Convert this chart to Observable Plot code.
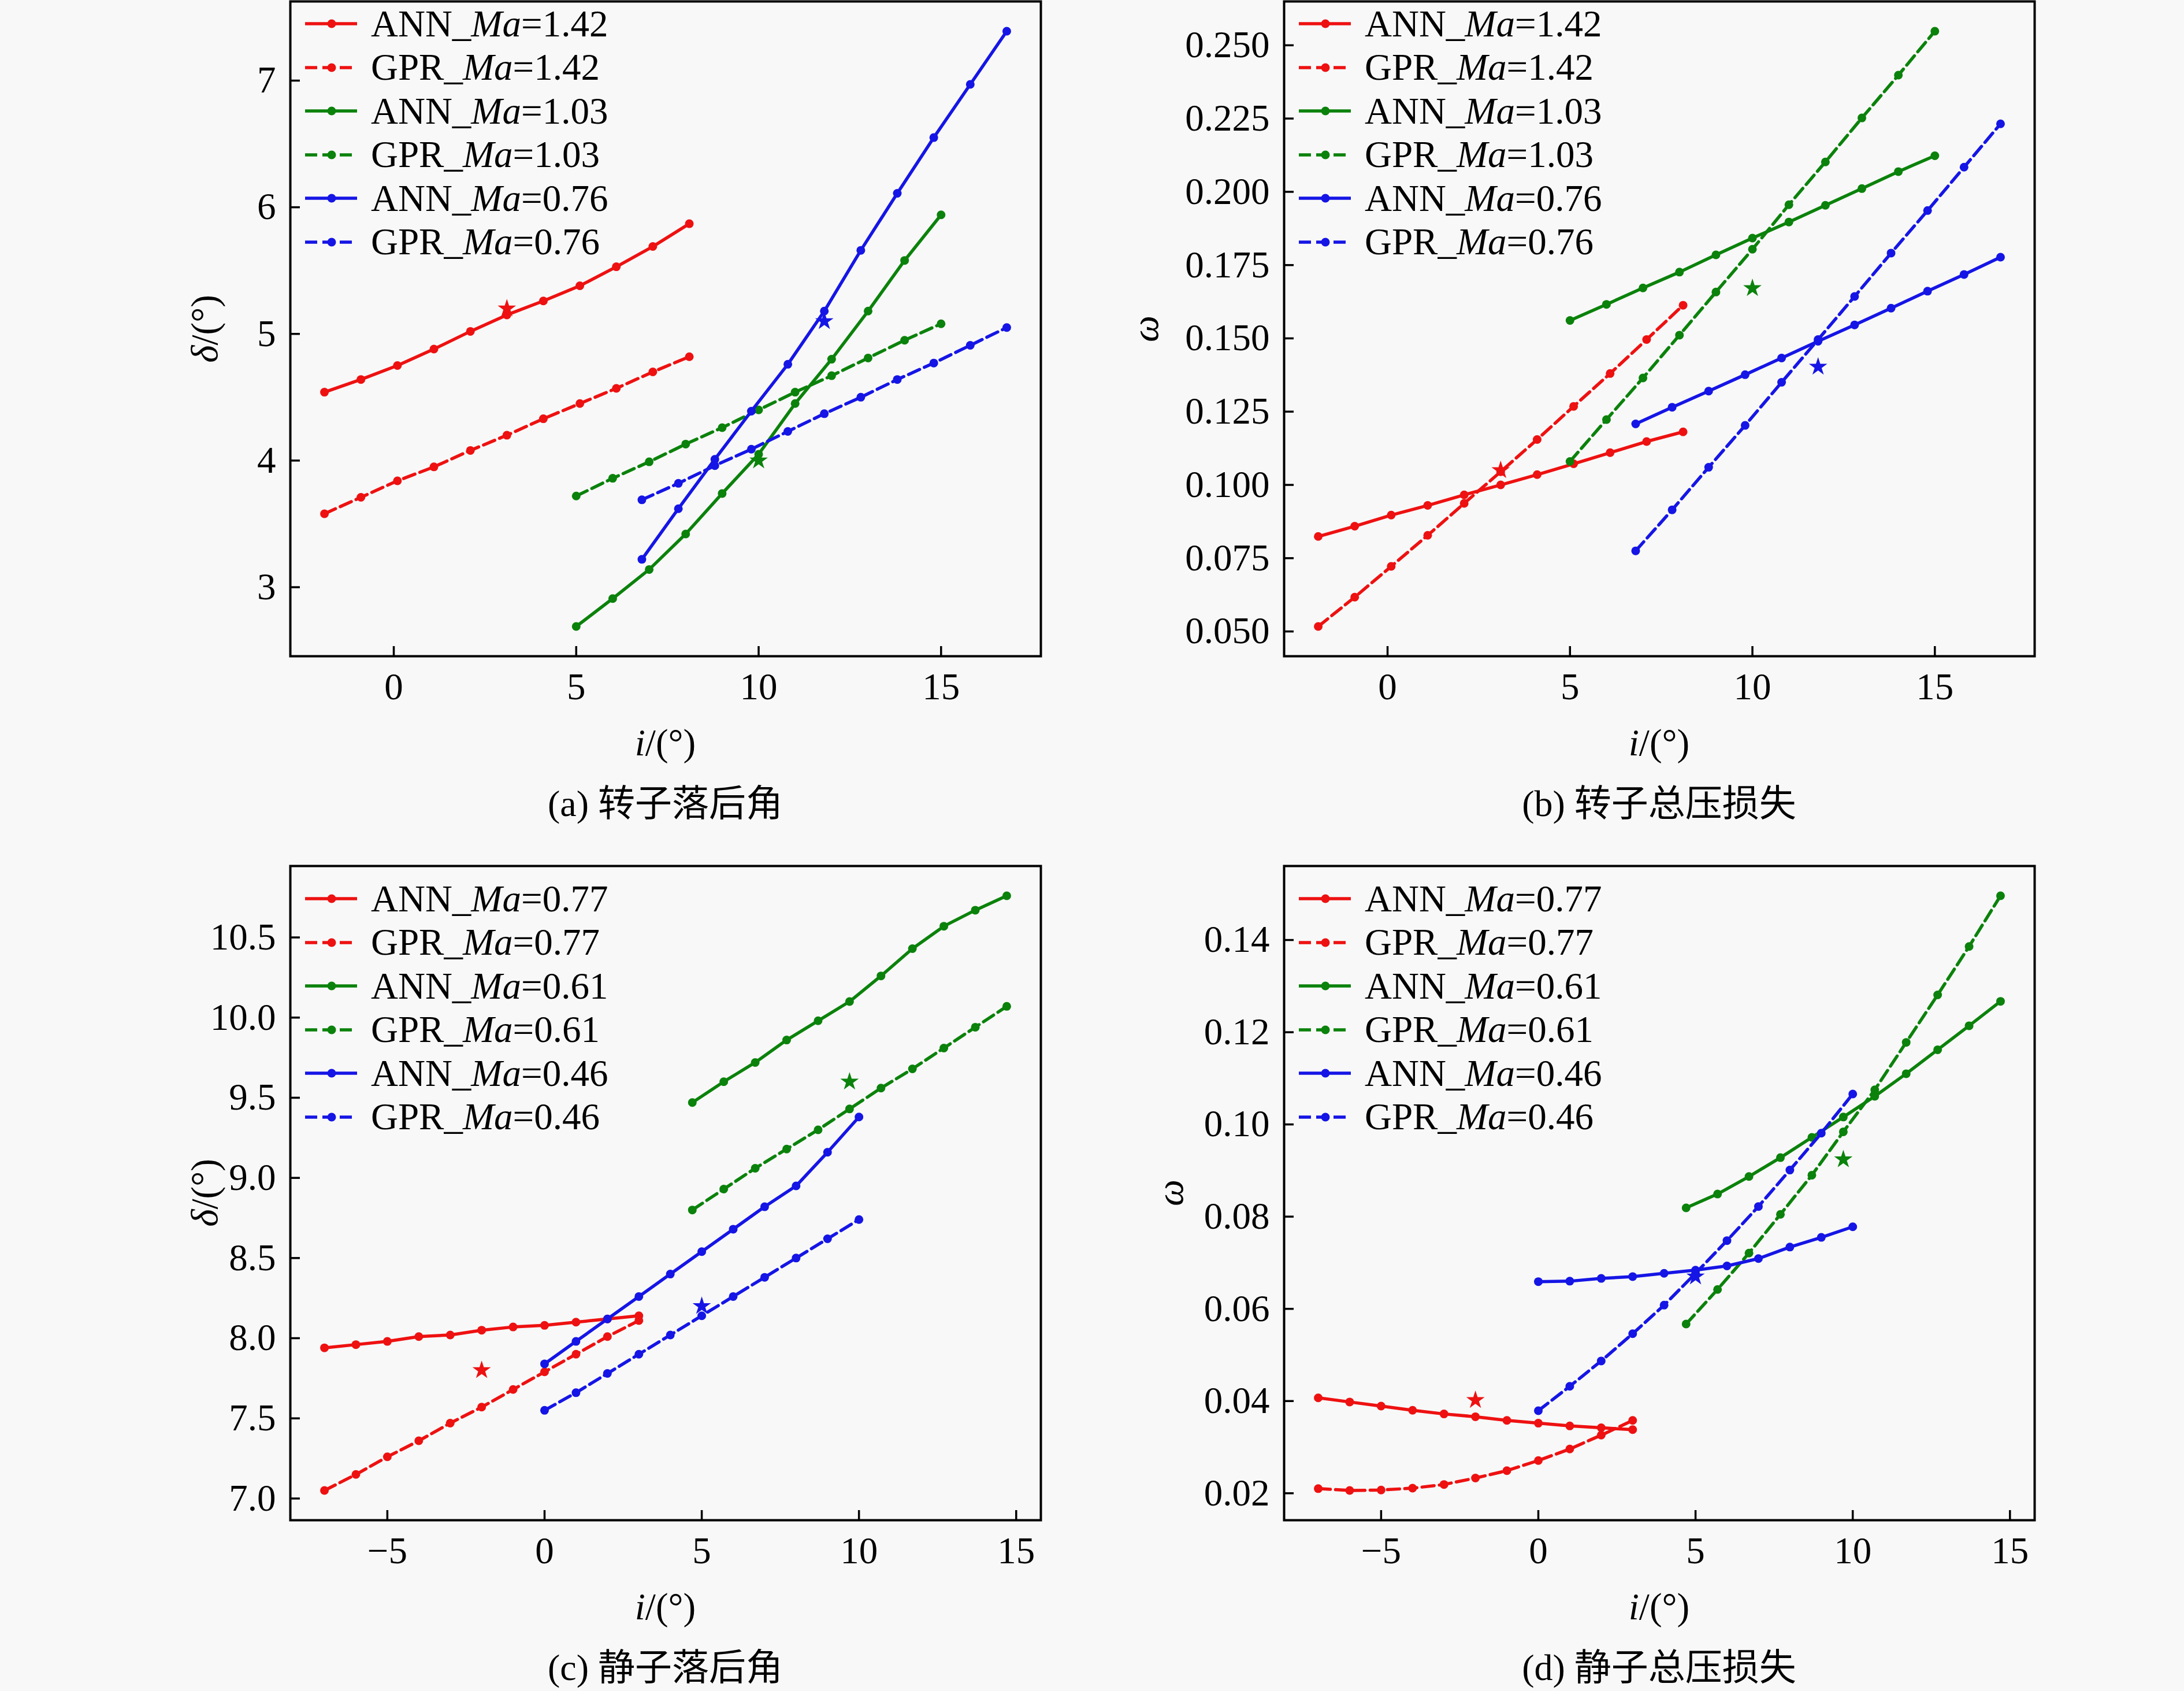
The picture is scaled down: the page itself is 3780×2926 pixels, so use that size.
<!DOCTYPE html>
<html>
<head>
<meta charset="utf-8">
<script src="https://cdn.jsdelivr.net/npm/d3@7"></script>
<script src="https://cdn.jsdelivr.net/npm/@observablehq/plot@0.6"></script>
<style>
  html, body { margin: 0; padding: 0; background: #f8f8f8; }
  #root { position: relative; width: 3780px; height: 2926px; overflow: hidden;
          font-family: "Liberation Serif", "Times New Roman", "Noto Sans CJK SC", serif; color: #000; }
  .panel { position: absolute; }
  .txt { position: absolute; font-size: 65px; line-height: 1; white-space: nowrap; transform: translate(-50%, -50%); }
  .ylab { transform: translate(-50%, -50%) rotate(-90deg); }
  .cap { font-family: "Liberation Serif", "Noto Sans CJK SC", serif; font-size: 64px; }
  .legend { position: absolute; }
  .legend .row { display: flex; align-items: center; height: 75.5px; }
  .legend .row svg { display: block; }
  .legend .row span { font-size: 65px; margin-left: 24px; line-height: 1; white-space: nowrap; }
</style>
</head>
<body>
<div id="root"></div>
<script>
// ---------- incidence angle i (°) ----------
const iRotor142 = [-1.9, -0.9, 0.1, 1.1, 2.1, 3.1, 4.1, 5.1, 6.1, 7.1, 8.1];
const iRotor103 = [5, 6, 7, 8, 9, 10, 11, 12, 13, 14, 15];
const iRotor076 = [6.8, 7.8, 8.8, 9.8, 10.8, 11.8, 12.8, 13.8, 14.8, 15.8, 16.8];
const iStator077 = [-7, -6, -5, -4, -3, -2, -1, 0, 1, 2, 3];
const iStator061 = [4.7, 5.7, 6.7, 7.7, 8.7, 9.7, 10.7, 11.7, 12.7, 13.7, 14.7];
const iStator046 = [0, 1, 2, 3, 4, 5, 6, 7, 8, 9, 10];

// ---------- (a) rotor deviation angle δ ----------
const aANN142 = [4.54, 4.64, 4.75, 4.88, 5.02, 5.15, 5.26, 5.38, 5.53, 5.69, 5.87];
const aGPR142 = [3.58, 3.71, 3.84, 3.95, 4.08, 4.20, 4.33, 4.45, 4.57, 4.70, 4.82];
const aANN103 = [2.69, 2.91, 3.14, 3.42, 3.74, 4.05, 4.45, 4.80, 5.18, 5.58, 5.94];
const aGPR103 = [3.72, 3.86, 3.99, 4.13, 4.26, 4.40, 4.54, 4.67, 4.81, 4.95, 5.08];
const aANN076 = [3.22, 3.62, 4.01, 4.39, 4.76, 5.18, 5.66, 6.11, 6.55, 6.97, 7.39];
const aGPR076 = [3.69, 3.82, 3.96, 4.09, 4.23, 4.37, 4.50, 4.64, 4.77, 4.91, 5.05];
const aStars = [{x: 3.1, y: 5.20, c: 0}, {x: 10, y: 4.00, c: 1}, {x: 11.8, y: 5.10, c: 2}];

// ---------- (b) rotor total pressure loss ω ----------
const bANN142 = [0.0824, 0.0859, 0.0897, 0.0930, 0.0966, 0.1000, 0.1035, 0.1072, 0.1110, 0.1148, 0.1181];
const bGPR142 = [0.0517, 0.0617, 0.0722, 0.0828, 0.0937, 0.1045, 0.1155, 0.1268, 0.1380, 0.1496, 0.1613];
const bANN103 = [0.1561, 0.1616, 0.1672, 0.1726, 0.1785, 0.1842, 0.1897, 0.1954, 0.2011, 0.2069, 0.2123];
const bGPR103 = [0.1080, 0.1223, 0.1365, 0.1511, 0.1658, 0.1804, 0.1956, 0.2102, 0.2252, 0.2398, 0.2548];
const bANN076 = [0.1208, 0.1265, 0.1320, 0.1376, 0.1433, 0.1490, 0.1546, 0.1603, 0.1661, 0.1718, 0.1777];
const bGPR076 = [0.0775, 0.0915, 0.1060, 0.1203, 0.1350, 0.1496, 0.1643, 0.1791, 0.1936, 0.2084, 0.2232];
const bStars = [{x: 3.1, y: 0.1050, c: 0}, {x: 10, y: 0.1671, c: 1}, {x: 11.8, y: 0.1403, c: 2}];

// ---------- (c) stator deviation angle δ ----------
const cANN077 = [7.94, 7.96, 7.98, 8.01, 8.02, 8.05, 8.07, 8.08, 8.10, 8.12, 8.14];
const cGPR077 = [7.05, 7.15, 7.26, 7.36, 7.47, 7.57, 7.68, 7.79, 7.90, 8.01, 8.11];
const cANN061 = [9.47, 9.60, 9.72, 9.86, 9.98, 10.10, 10.26, 10.43, 10.57, 10.67, 10.76];
const cGPR061 = [8.80, 8.93, 9.06, 9.18, 9.30, 9.43, 9.56, 9.68, 9.81, 9.94, 10.07];
const cANN046 = [7.84, 7.98, 8.12, 8.26, 8.40, 8.54, 8.68, 8.82, 8.95, 9.16, 9.38];
const cGPR046 = [7.55, 7.66, 7.78, 7.90, 8.02, 8.14, 8.26, 8.38, 8.50, 8.62, 8.74];
const cStars = [{x: -2, y: 7.80, c: 0}, {x: 9.7, y: 9.60, c: 1}, {x: 5, y: 8.20, c: 2}];

// ---------- (d) stator total pressure loss ω ----------
const dANN077 = [0.0407, 0.0398, 0.0389, 0.0380, 0.0372, 0.0366, 0.0358, 0.0352, 0.0346, 0.0342, 0.0338];
const dGPR077 = [0.0210, 0.0206, 0.0207, 0.0211, 0.0219, 0.0233, 0.0249, 0.0271, 0.0296, 0.0326, 0.0358];
const dANN061 = [0.0819, 0.0849, 0.0887, 0.0928, 0.0972, 0.1016, 0.1061, 0.1110, 0.1162, 0.1214, 0.1267];
const dGPR061 = [0.0567, 0.0642, 0.0721, 0.0805, 0.0890, 0.0984, 0.1075, 0.1178, 0.1281, 0.1386, 0.1496];
const dANN046 = [0.0659, 0.0660, 0.0666, 0.0670, 0.0677, 0.0684, 0.0693, 0.0709, 0.0734, 0.0755, 0.0778];
const dGPR046 = [0.0379, 0.0432, 0.0487, 0.0546, 0.0608, 0.0677, 0.0748, 0.0822, 0.0901, 0.0981, 0.1066];
const dStars = [{x: -2, y: 0.0402, c: 0}, {x: 9.7, y: 0.0924, c: 1}, {x: 5, y: 0.0670, c: 2}];

// ---------- ticks and labels ----------
const xTicksRotor = [0, 5, 10, 15];
const xTicksStator = [-5, 0, 5, 10, 15];
const yTicksA = [3, 4, 5, 6, 7];
const yTicksB = [0.050, 0.075, 0.100, 0.125, 0.150, 0.175, 0.200, 0.225, 0.250];
const yTicksC = [7.0, 7.5, 8.0, 8.5, 9.0, 9.5, 10.0, 10.5];
const yTicksD = [0.02, 0.04, 0.06, 0.08, 0.10, 0.12, 0.14];
const machRotor = ["1.42", "1.03", "0.76"];
const machStator = ["0.77", "0.61", "0.46"];
const captions = ["(a) 转子落后角", "(b) 转子总压损失", "(c) 静子落后角", "(d) 静子总压损失"];
const xLabelHTML = "<i>i</i>/(°)";
const yLabelDelta = "<i>δ</i>/(°)";
const yLabelOmega = "<i>ω</i>";

// ---------- styles ----------
const COLORS = ["#ee1111", "#0b820b", "#1515e6"];
const DASH = "21,9";
const FONT = "Liberation Serif, Times New Roman, serif";

function paddedExtent(arrays) {
  const all = arrays.flat();
  const lo = d3.min(all), hi = d3.max(all);
  const m = (hi - lo) * 0.05;
  return [lo - m, hi + m];
}

function legendHTML(machs) {
  let h = "";
  machs.forEach((m, k) => {
    const col = COLORS[k];
    ["ANN", "GPR"].forEach(model => {
      const dashed = model === "GPR";
      h += `<div class="row"><svg width="90" height="24" viewBox="0 0 90 24">` +
           `<line x1="0" y1="12" x2="90" y2="12" stroke="${col}" stroke-width="5.5"${dashed ? ` stroke-dasharray="${DASH}"` : ""}/>` +
           `<circle cx="46" cy="12" r="7.5" fill="${col}"/></svg>` +
           `<span>${model}_<i>Ma</i>=${m}</span></div>`;
    });
  });
  return h;
}

function panel(cfg) {
  const root = document.getElementById("root");
  const [fx0, fx1, fy0, fy1] = cfg.frame;
  const fw = fx1 - fx0, fh = fy1 - fy0;
  const seriesData = cfg.series.map(s => ({
    color: COLORS[s.c], dashed: s.dashed,
    pts: s.x.map((xi, k) => ({x: xi, y: s.y[k]}))
  }));
  const xDom = paddedExtent(cfg.series.map(s => s.x));
  const yDom = paddedExtent(cfg.series.map(s => s.y).concat([cfg.stars.map(s => s.y)]));
  const marks = [];
  seriesData.forEach(s => {
    marks.push(Plot.line(s.pts, {x: "x", y: "y", stroke: s.color, strokeWidth: 5.5,
      strokeDasharray: s.dashed ? DASH : undefined}));
    marks.push(Plot.dot(s.pts, {x: "x", y: "y", fill: s.color, r: 7.5}));
  });
  marks.push(Plot.dot(cfg.stars, {x: "x", y: "y", symbol: "star", r: 10, fill: d => COLORS[d.c]}));
  marks.push(Plot.ruleX(cfg.xTicks, {x: d => d, insetTop: fh - 17, stroke: "#000", strokeWidth: 3.5}));
  marks.push(Plot.ruleY(cfg.yTicks, {y: d => d, insetRight: fw - 17, stroke: "#000", strokeWidth: 3.5}));
  marks.push(Plot.axisX({ticks: cfg.xTicks, tickSize: 0, tickPadding: 28, tickFormat: cfg.xFmt,
    label: null, fontSize: 65, fontFamily: FONT, fill: "#000"}));
  marks.push(Plot.axisY({ticks: cfg.yTicks, tickSize: 0, tickPadding: 25, tickFormat: cfg.yFmt,
    label: null, fontSize: 65, fontFamily: FONT, fill: "#000"}));
  marks.push(Plot.frame({stroke: "#000", strokeWidth: 4}));

  const svg = Plot.plot({
    width: cfg.w, height: cfg.h,
    marginLeft: fx0 - cfg.left, marginRight: cfg.left + cfg.w - fx1,
    marginTop: fy0 - cfg.top, marginBottom: cfg.top + cfg.h - fy1,
    x: {domain: xDom}, y: {domain: yDom},
    style: {fontFamily: FONT, fontSize: "65px", background: "transparent", overflow: "visible"},
    marks
  });
  const wrap = document.createElement("div");
  wrap.className = "panel";
  wrap.style.left = cfg.left + "px";
  wrap.style.top = cfg.top + "px";
  wrap.appendChild(svg);
  root.appendChild(wrap);

  const cx = (fx0 + fx1) / 2, cy = (fy0 + fy1) / 2;
  const add = (cls, html, x, y) => {
    const d = document.createElement("div");
    d.className = "txt " + cls;
    d.innerHTML = html;
    d.style.left = x + "px";
    d.style.top = y + "px";
    root.appendChild(d);
  };
  add("ylab", cfg.ylabel, cfg.ylabelX, cy);
  add("", xLabelHTML, cx, fy1 + 150);
  add("cap", cfg.caption, cx, fy1 + 256);

  const lg = document.createElement("div");
  lg.className = "legend";
  lg.style.left = (fx0 + 26) + "px";
  lg.style.top = (fy0 + cfg.legendRow0 - 37.75) + "px";
  lg.innerHTML = legendHTML(cfg.machs);
  root.appendChild(lg);
}

const fmtInt = d3.format("d");
panel({
  left: 0, top: 0, w: 1890, h: 1463, frame: [502, 1801, 2, 1135],
  series: [
    {x: iRotor142, y: aANN142, c: 0, dashed: false}, {x: iRotor142, y: aGPR142, c: 0, dashed: true},
    {x: iRotor103, y: aANN103, c: 1, dashed: false}, {x: iRotor103, y: aGPR103, c: 1, dashed: true},
    {x: iRotor076, y: aANN076, c: 2, dashed: false}, {x: iRotor076, y: aGPR076, c: 2, dashed: true}
  ],
  stars: aStars, xTicks: xTicksRotor, yTicks: yTicksA, xFmt: fmtInt, yFmt: fmtInt,
  ylabel: yLabelDelta, ylabelX: 354, caption: captions[0], machs: machRotor, legendRow0: 39
});
panel({
  left: 1890, top: 0, w: 1890, h: 1463, frame: [2222, 3521, 2, 1135],
  series: [
    {x: iRotor142, y: bANN142, c: 0, dashed: false}, {x: iRotor142, y: bGPR142, c: 0, dashed: true},
    {x: iRotor103, y: bANN103, c: 1, dashed: false}, {x: iRotor103, y: bGPR103, c: 1, dashed: true},
    {x: iRotor076, y: bANN076, c: 2, dashed: false}, {x: iRotor076, y: bGPR076, c: 2, dashed: true}
  ],
  stars: bStars, xTicks: xTicksRotor, yTicks: yTicksB, xFmt: fmtInt, yFmt: d3.format(".3f"),
  ylabel: yLabelOmega, ylabelX: 1982, caption: captions[1], machs: machRotor, legendRow0: 39
});
panel({
  left: 0, top: 1463, w: 1890, h: 1463, frame: [502, 1801, 1498, 2630],
  series: [
    {x: iStator077, y: cANN077, c: 0, dashed: false}, {x: iStator077, y: cGPR077, c: 0, dashed: true},
    {x: iStator061, y: cANN061, c: 1, dashed: false}, {x: iStator061, y: cGPR061, c: 1, dashed: true},
    {x: iStator046, y: cANN046, c: 2, dashed: false}, {x: iStator046, y: cGPR046, c: 2, dashed: true}
  ],
  stars: cStars, xTicks: xTicksStator, yTicks: yTicksC, xFmt: fmtInt, yFmt: d3.format(".1f"),
  ylabel: yLabelDelta, ylabelX: 354, caption: captions[2], machs: machStator, legendRow0: 57
});
panel({
  left: 1890, top: 1463, w: 1890, h: 1463, frame: [2222, 3521, 1498, 2630],
  series: [
    {x: iStator077, y: dANN077, c: 0, dashed: false}, {x: iStator077, y: dGPR077, c: 0, dashed: true},
    {x: iStator061, y: dANN061, c: 1, dashed: false}, {x: iStator061, y: dGPR061, c: 1, dashed: true},
    {x: iStator046, y: dANN046, c: 2, dashed: false}, {x: iStator046, y: dGPR046, c: 2, dashed: true}
  ],
  stars: dStars, xTicks: xTicksStator, yTicks: yTicksD, xFmt: fmtInt, yFmt: d3.format(".2f"),
  ylabel: yLabelOmega, ylabelX: 2025, caption: captions[3], machs: machStator, legendRow0: 57
});
</script>
</body>
</html>
